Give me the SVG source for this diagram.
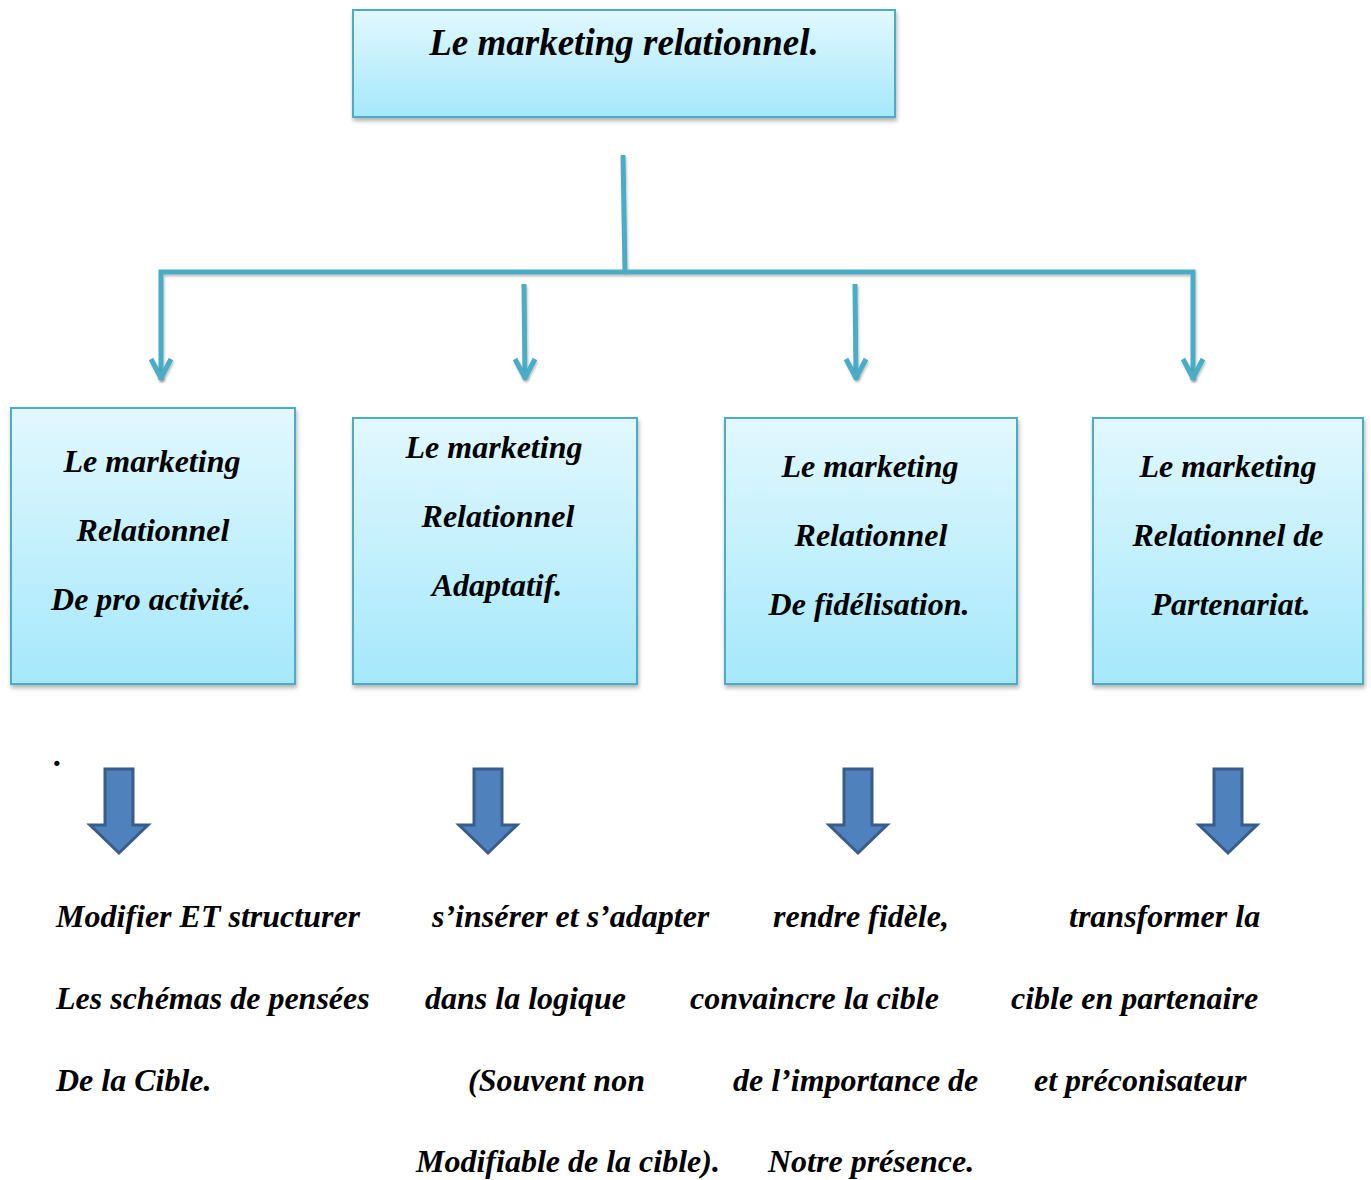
<svg xmlns="http://www.w3.org/2000/svg" width="1371" height="1180" viewBox="0 0 1371 1180">
<style>
.box{fill:url(#g);stroke:#4bacc6;stroke-width:2;filter:url(#sh)}
.t{font-family:"Liberation Serif","Times New Roman",serif;font-weight:bold;font-style:italic;fill:#000}
.bt{font-size:32px;text-anchor:middle}
.lt{font-size:32px}
.con{fill:none;stroke:#4bacc6;stroke-width:5;filter:url(#sh2)}
.blk{fill:#4f81bd;stroke:#385d8a;stroke-width:3}
</style>
<defs>
<linearGradient id="g" x1="0" y1="0" x2="0" y2="1">
<stop offset="0" stop-color="#e2f8fe"/>
<stop offset="1" stop-color="#a5e8fb"/>
</linearGradient>
<filter id="sh" x="-5%" y="-5%" width="115%" height="115%">
<feDropShadow dx="1" dy="3" stdDeviation="2" flood-color="#000" flood-opacity="0.3"/>
</filter>
<filter id="sh2" filterUnits="userSpaceOnUse" x="0" y="0" width="1371" height="1180">
<feDropShadow dx="1" dy="2" stdDeviation="1.2" flood-color="#000" flood-opacity="0.25"/>
</filter>
</defs>
<rect width="1371" height="1180" fill="#fff"/>
<g id="connectors">
<path class="con" d="M623 155 L625 272"/>
<path class="con" d="M161 380 L161 272 L1193 272 L1193 380"/>
<path class="con" d="M524 284 L525 378"/>
<path class="con" d="M855 284 L856 378"/>
<path class="con" stroke-linejoin="round" d="M151 359 L161 378 L171 359"/>
<path class="con" stroke-linejoin="round" d="M515 359 L525 378 L535 359"/>
<path class="con" stroke-linejoin="round" d="M846 359 L856 378 L866 359"/>
<path class="con" stroke-linejoin="round" d="M1183 359 L1193 378 L1203 359"/>
</g>
<g id="root">
<rect class="box" x="353" y="10" width="542" height="107"/>
<text class="t" x="624" y="55" font-size="37" text-anchor="middle">Le marketing relationnel.</text>
</g>
<g id="node1">
<rect class="box" x="11" y="408" width="284" height="276"/>
<text class="t bt" x="152" y="472">Le marketing</text>
<text class="t bt" x="153" y="541">Relationnel</text>
<text class="t bt" x="151" y="610">De pro activité.</text>
</g>
<g id="node2">
<rect class="box" x="353" y="418" width="284" height="266"/>
<text class="t bt" x="494" y="458">Le marketing</text>
<text class="t bt" x="498" y="527">Relationnel</text>
<text class="t bt" x="497" y="596">Adaptatif.</text>
</g>
<g id="node3">
<rect class="box" x="725" y="418" width="292" height="266"/>
<text class="t bt" x="870" y="477">Le marketing</text>
<text class="t bt" x="871" y="546">Relationnel</text>
<text class="t bt" x="869" y="615">De fidélisation.</text>
</g>
<g id="node4">
<rect class="box" x="1093" y="418" width="270" height="266"/>
<text class="t bt" x="1228" y="477">Le marketing</text>
<text class="t bt" x="1228" y="546">Relationnel de</text>
<text class="t bt" x="1231" y="615">Partenariat.</text>
</g>
<g id="blockarrows">
<path class="blk" d="M105 769 H133 V825 H148 L119 853 L90 825 H105 Z"/>
<path class="blk" d="M474 769 H502 V825 H517 L488 853 L459 825 H474 Z"/>
<path class="blk" d="M844 769 H872 V825 H887 L858 853 L829 825 H844 Z"/>
<path class="blk" d="M1214 769 H1242 V825 H1257 L1228 853 L1199 825 H1214 Z"/>
</g>
<g id="labels">
<text class="t lt" x="54" y="766">.</text>
<text class="t lt" x="56" y="927">Modifier ET structurer</text>
<text class="t lt" x="56" y="1009">Les schémas de pensées</text>
<text class="t lt" x="56" y="1091">De la Cible.</text>
<text class="t lt" x="432" y="927">s’insérer et s’adapter</text>
<text class="t lt" x="425" y="1009">dans la logique</text>
<text class="t lt" x="468" y="1091">(Souvent non</text>
<text class="t lt" x="416" y="1172">Modifiable de la cible).</text>
<text class="t lt" x="773" y="927">rendre fidèle,</text>
<text class="t lt" x="690" y="1009">convaincre la cible</text>
<text class="t lt" x="733" y="1091">de l’importance de</text>
<text class="t lt" x="768" y="1172">Notre présence.</text>
<text class="t lt" x="1069" y="927">transformer la</text>
<text class="t lt" x="1011" y="1009">cible en partenaire</text>
<text class="t lt" x="1034" y="1091">et préconisateur</text>
</g>
</svg>
